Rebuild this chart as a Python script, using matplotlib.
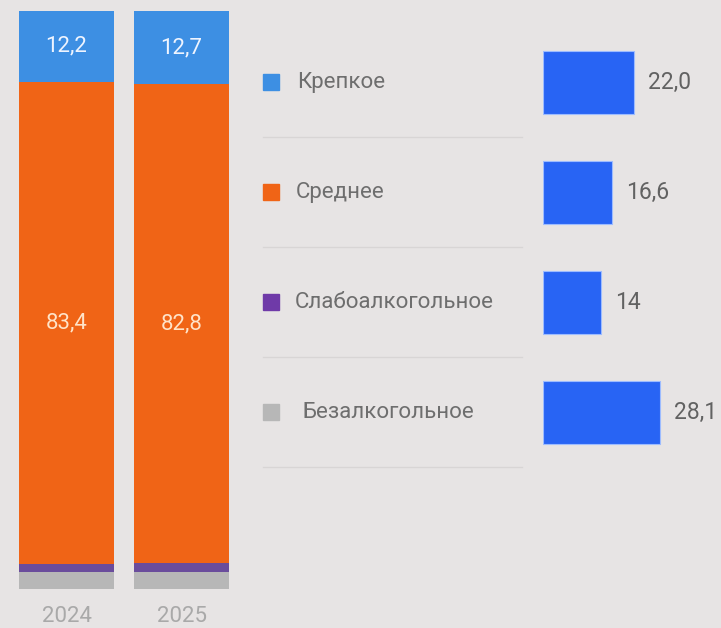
import matplotlib.pyplot as plt

# Share of segments by year, %
years = ['2024', '2025']
segments = ['Крепкое', 'Среднее', 'Слабоалкогольное', 'Безалкогольное']
strong = [12.2, 12.7]
medium = [83.4, 82.8]
low_alc = [1.5, 1.5]
non_alc = [2.9, 3.0]

# Growth values shown on the right
growth = [22.0, 16.6, 14, 28.1]
growth_labels = ['22,0', '16,6', '14', '28,1']

COLORS = {
    'strong': '#3d8fe3',
    'medium': '#f06416',
    'low': '#6a4c9c',
    'non': '#b7b7b7',
    'legend_low': '#6f3aa8',
    'growth': '#2864f4',
    'bg': '#e7e4e4',
}

plt.rcParams['font.family'] = ['Roboto', 'DejaVu Sans']

fig = plt.figure(figsize=(7.21, 6.28), dpi=100, facecolor=COLORS['bg'])
W, H = 721, 628

# --- stacked bars (left) ---
ax = fig.add_axes([0, 39 / H, 250 / W, 578 / H])
ax.set_facecolor('none')
x = [0, 1]
width = 0.826
bottom = [0, 0]
stack = [(non_alc, COLORS['non']), (low_alc, COLORS['low']),
         (medium, COLORS['medium']), (strong, COLORS['strong'])]
for vals, col in stack:
    ax.bar(x, vals, width, bottom=bottom, color=col, linewidth=0)
    bottom = [b + v for b, v in zip(bottom, vals)]

base = [n + l for n, l in zip(non_alc, low_alc)]
for i in x:
    ax.text(i, base[i] + medium[i] / 2, f'{medium[i]:.1f}'.replace('.', ','),
            ha='center', va='center', color='#ffe3c8', fontsize=16)
    ax.text(i, base[i] + medium[i] + strong[i] / 2, f'{strong[i]:.1f}'.replace('.', ','),
            ha='center', va='center', color='#eef4ff', fontsize=16)

ax.set_xlim(-66.5 / 115, 183.5 / 115)
ax.set_ylim(0, 100)
ax.set_xticks(x)
ax.set_xticklabels(years, fontsize=16, color='#a9a9a9')
ax.tick_params(axis='x', length=0, pad=12)
ax.set_yticks([])
for s in ax.spines.values():
    s.set_visible(False)

ylim = ((H - 82.5) / 110, -82.5 / 110)

# --- legend (middle) ---
lg = fig.add_axes([250 / W, 0, 293 / W, 1])
lg.set_facecolor('none')
lg.set_xlim(250, 543)
lg.set_ylim(*ylim)
leg_colors = [COLORS['strong'], COLORS['medium'], COLORS['legend_low'], COLORS['non']]
text_x = [297, 296, 295, 302]
for i, (name, col) in enumerate(zip(segments, leg_colors)):
    lg.plot([271], [i], marker='s', markersize=11.5, color=col, linestyle='none')
    lg.text(text_x[i], i, name, ha='left', va='center', fontsize=16, color='#6e6e6e')
    lg.plot([263, 522], [i + 0.5, i + 0.5], color='#d8d5d5', linewidth=1)
lg.axis('off')

# --- growth bars (right) ---
rx = fig.add_axes([543 / W, 0, (W - 543) / W, 1])
rx.set_facecolor('none')
rx.barh(range(len(growth)), growth, height=0.573, color=COLORS['growth'],
        edgecolor='#9dbcff', linewidth=0.8)
for i, (v, lab) in enumerate(zip(growth, growth_labels)):
    rx.annotate(lab, (v, i), xytext=(10, 0), textcoords='offset points',
                ha='left', va='center', fontsize=16.5, color='#626262')
rx.set_xlim(0, (W - 543) / 4.15)
rx.set_ylim(*ylim)
rx.axis('off')

fig.savefig('out.png', dpi=100, facecolor=COLORS['bg'])
